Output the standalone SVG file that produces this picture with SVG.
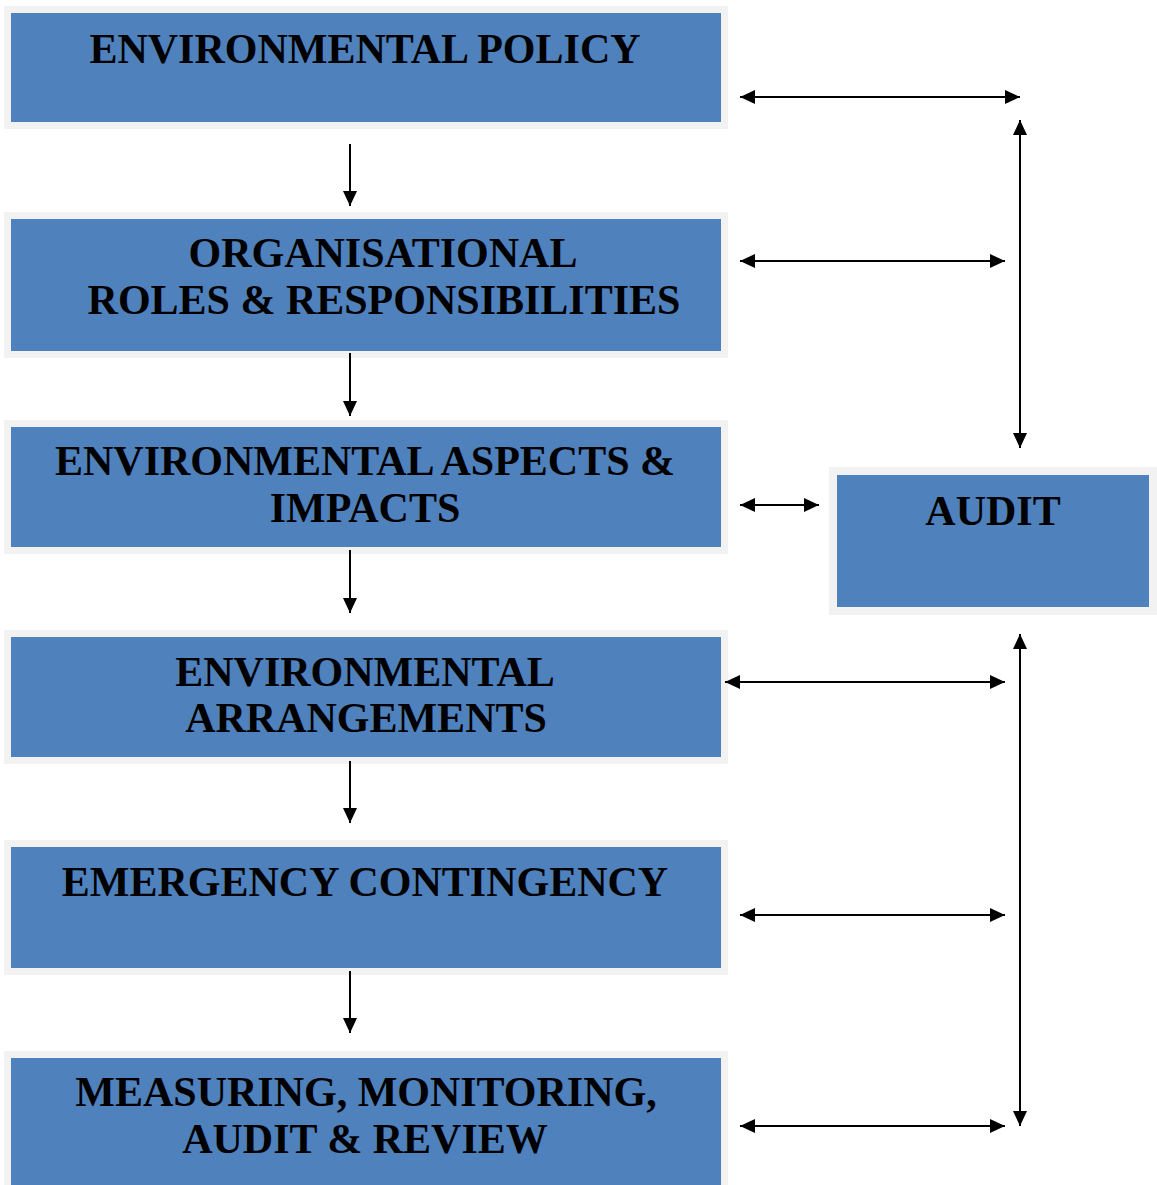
<svg xmlns="http://www.w3.org/2000/svg" width="1157" height="1185" viewBox="0 0 1157 1185">
<style>
.outer{fill:#f2f2f2}
.box{fill:#4f81bd}
.t{font-family:"Liberation Serif","Times New Roman",serif;font-weight:bold;font-size:42px;fill:#000;text-anchor:middle}
.c{stroke:#000;stroke-width:2;fill:none;marker-end:url(#ah)}
.d{stroke:#000;stroke-width:2;fill:none;marker-end:url(#ah);marker-start:url(#ahs)}
</style>
<defs>
<marker id="ah" markerUnits="userSpaceOnUse" markerWidth="16" markerHeight="14" refX="15" refY="7" orient="auto"><path d="M0,0 L15,7 L0,14 Z" fill="#000"/></marker>
<marker id="ahs" markerUnits="userSpaceOnUse" markerWidth="16" markerHeight="14" refX="0" refY="7" orient="auto"><path d="M15,0 L0,7 L15,14 Z" fill="#000"/></marker>
</defs>
<rect width="1157" height="1185" fill="#fff"/>
<g id="policy">
<rect class="outer" x="4" y="6" width="724" height="123"/>
<rect class="box" x="11" y="13" width="710" height="109"/>
<text class="t" x="365" y="63">ENVIRONMENTAL POLICY</text>
</g>
<g id="roles">
<rect class="outer" x="4" y="212" width="724" height="146"/>
<rect class="box" x="11" y="219" width="710" height="132"/>
<text class="t" x="383" y="267">ORGANISATIONAL</text>
<text class="t" x="384" y="314">ROLES &amp; RESPONSIBILITIES</text>
</g>
<g id="aspects">
<rect class="outer" x="4" y="420" width="724" height="134"/>
<rect class="box" x="11" y="427" width="710" height="120"/>
<text class="t" x="365" y="475">ENVIRONMENTAL ASPECTS &amp;</text>
<text class="t" x="365" y="522">IMPACTS</text>
</g>
<g id="arrangements">
<rect class="outer" x="4" y="630" width="724" height="134"/>
<rect class="box" x="11" y="637" width="710" height="120"/>
<text class="t" x="365" y="686">ENVIRONMENTAL</text>
<text class="t" x="366" y="732">ARRANGEMENTS</text>
</g>
<g id="emergency">
<rect class="outer" x="4" y="840" width="724" height="135"/>
<rect class="box" x="11" y="847" width="710" height="121"/>
<text class="t" x="365" y="896">EMERGENCY CONTINGENCY</text>
</g>
<g id="measuring">
<rect class="outer" x="4" y="1051" width="724" height="140"/>
<rect class="box" x="11" y="1058" width="710" height="130"/>
<text class="t" x="366" y="1106">MEASURING, MONITORING,</text>
<text class="t" x="365" y="1153">AUDIT &amp; REVIEW</text>
</g>
<g id="audit">
<rect class="outer" x="829" y="467" width="328" height="148"/>
<rect class="box" x="837" y="475" width="312" height="132"/>
<text class="t" x="993" y="525">AUDIT</text>
</g>
<g id="connectors">
<line class="c" x1="350" y1="144" x2="350" y2="206"/>
<line class="c" x1="350" y1="353" x2="350" y2="416"/>
<line class="c" x1="350" y1="550" x2="350" y2="613"/>
<line class="c" x1="350" y1="761" x2="350" y2="823"/>
<line class="c" x1="350" y1="971" x2="350" y2="1033"/>
<line class="d" x1="740" y1="97" x2="1020" y2="97"/>
<line class="d" x1="740" y1="261" x2="1005" y2="261"/>
<line class="d" x1="740" y1="505" x2="819" y2="505"/>
<line class="d" x1="725" y1="682" x2="1005" y2="682"/>
<line class="d" x1="740" y1="915" x2="1005" y2="915"/>
<line class="d" x1="740" y1="1126" x2="1005" y2="1126"/>
<line class="d" x1="1020" y1="120" x2="1020" y2="448"/>
<line class="d" x1="1020" y1="634" x2="1020" y2="1126"/>
</g>
</svg>
